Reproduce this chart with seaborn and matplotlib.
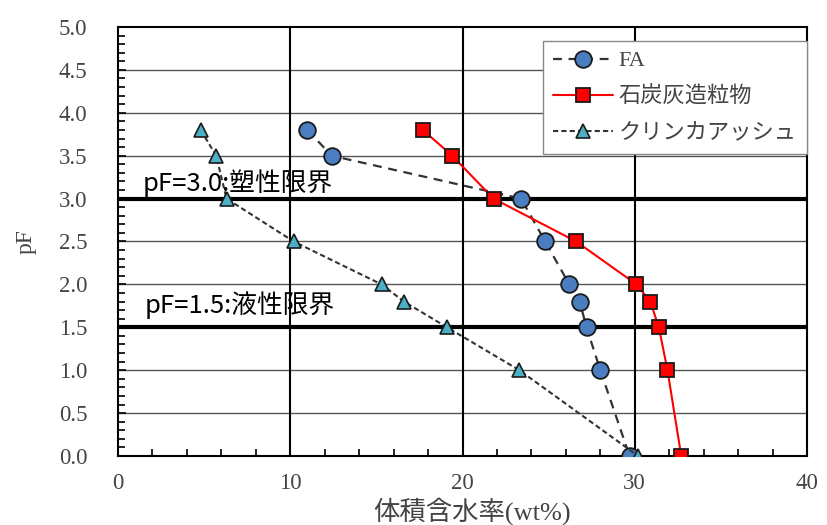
import matplotlib
matplotlib.use("Agg")
import matplotlib.pyplot as plt
import seaborn as sns
from matplotlib.ticker import MultipleLocator

# Data
pf = [3.8, 3.5, 3.0, 2.5, 2.0, 1.8, 1.5, 1.0, 0.0]
fa = [11.0, 12.4, 23.4, 24.8, 26.2, 26.8, 27.2, 28.0, 29.7]
sekitan = [17.7, 19.4, 21.8, 26.6, 30.1, 30.9, 31.4, 31.9, 32.7]
clinker = [4.8, 5.7, 6.3, 10.2, 15.3, 16.6, 19.1, 23.3, 30.2]
limits = [3.0, 1.5]
limit_labels = ["pF=3.0:塑性限界", "pF=1.5:液性限界"]

sns.set_style("white")
plt.rcParams["font.family"] = ["Noto Sans CJK JP", "DejaVu Sans"]
serif = ["Liberation Serif", "Noto Sans CJK JP"]

fig = plt.figure(figsize=(8.27, 5.25), dpi=100)
ax = fig.add_axes([118 / 827, 1 - 456 / 525, 689 / 827, 429 / 525])

# grid
for y in [0.5 * i for i in range(1, 10)]:
    ax.axhline(y, color="#555555", lw=1.0, zorder=0)
for x in [10, 20, 30]:
    ax.axvline(x, color="black", lw=1.5, zorder=0)
for y in limits:
    ax.axhline(y, color="black", lw=3.0, zorder=1)

sns.lineplot(x=fa, y=pf, sort=False, ax=ax, color="#333333", lw=1.6,
             linestyle=(0, (4, 3)), marker="o", markersize=12,
             markerfacecolor="#4A7EC0", markeredgecolor="#1a1a1a",
             markeredgewidth=1.3, label="FA", zorder=4)
sns.lineplot(x=sekitan, y=pf, sort=False, ax=ax, color="#FF0000", lw=1.5,
             marker="s", markersize=10.5, markerfacecolor="#FF0000",
             markeredgecolor="#1a1a1a", markeredgewidth=1.3,
             label="石炭灰造粒物", zorder=6)
sns.lineplot(x=clinker, y=pf, sort=False, ax=ax, color="#333333", lw=1.5,
             linestyle=(0, (2.5, 1.5)), marker="^", markersize=10,
             markerfacecolor="#4BAFC6", markeredgecolor="#1a1a1a",
             markeredgewidth=1.2, label="クリンカアッシュ", zorder=5)

ax.text(1.45, 3.02, limit_labels[0], fontsize=18.5, va="bottom", ha="left",
        color="black", zorder=7)
ax.text(1.57, 1.6, limit_labels[1], fontsize=18.5, va="bottom", ha="left",
        color="black", zorder=7)

ax.set_xlim(0, 40)
ax.set_ylim(0, 5)
ax.xaxis.set_major_locator(MultipleLocator(10))
ax.xaxis.set_minor_locator(MultipleLocator(2))
ax.yaxis.set_major_locator(MultipleLocator(0.5))
ax.yaxis.set_minor_locator(MultipleLocator(0.1))
ax.tick_params(axis="both", which="both", direction="in", color="black",
               left=True, bottom=True, top=False, right=False)
ax.tick_params(axis="both", which="major", length=6, width=1.2,
               labelsize=16.5, labelcolor="#444444")
ax.tick_params(axis="x", which="major", pad=12)
ax.tick_params(axis="y", which="major", pad=22)
ax.tick_params(axis="both", which="minor", length=5, width=1.2)
ax.set_yticks([0.5 * i for i in range(11)])
ax.set_yticklabels([f"{0.5 * i:.1f}" for i in range(11)], family=serif)
ax.set_xticks([0, 10, 20, 30, 40])
ax.set_xticklabels(["0", "10", "20", "30", "40"], family=serif)

for s in ax.spines.values():
    s.set_color("black")
    s.set_linewidth(1.5)

ax.set_xlabel("体積含水率(wt%)", fontsize=19, color="#444444", family=serif)
ax.xaxis.set_label_coords(0.514, -0.095)
ax.set_ylabel("pF", fontsize=17, color="#444444", family=serif)
ax.yaxis.set_label_coords(-0.118, 0.5)

leg = ax.legend(loc="upper left", bbox_to_anchor=(0.617, 0.968),
                borderaxespad=0, frameon=True, fancybox=False,
                edgecolor="#888888", framealpha=1, handlelength=2.7,
                prop={"family": serif, "size": 16}, labelcolor="#444444",
                borderpad=0.45, labelspacing=0.7, handletextpad=0.25)
leg.get_frame().set_linewidth(1.0)
leg.set_zorder(10)

fig.savefig("out.png", dpi=100)
